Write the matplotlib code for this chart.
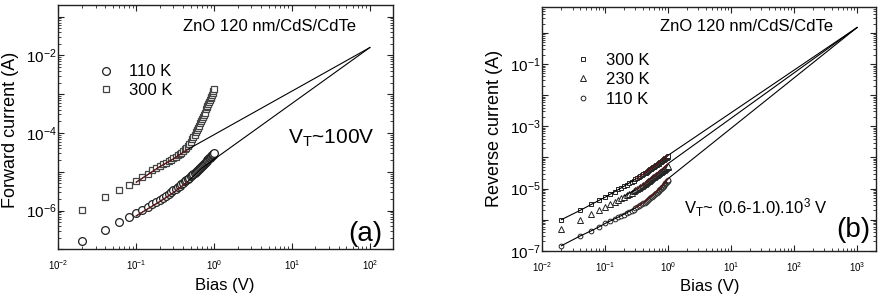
import matplotlib
matplotlib.use("Agg")
import matplotlib.pyplot as plt
import numpy as np
from matplotlib.ticker import LogLocator, FuncFormatter, NullFormatter

plt.rcParams['font.family'] = ['Liberation Sans', 'DejaVu Sans']
plt.rcParams['mathtext.default'] = 'regular'

# measured bias points (V), same for every curve
bias = [0.02, 0.04, 0.06, 0.08, 0.10, 0.12, 0.14, 0.16, 0.18, 0.20,
        0.22, 0.24, 0.26, 0.28, 0.30, 0.32, 0.34, 0.36, 0.38, 0.40,
        0.42, 0.44, 0.46, 0.48, 0.50, 0.52, 0.54, 0.56, 0.58, 0.60,
        0.62, 0.64, 0.66, 0.68, 0.70, 0.72, 0.74, 0.76, 0.78, 0.80,
        0.82, 0.84, 0.86, 0.88, 0.90, 0.92, 0.94, 0.96, 0.98, 1.00]

# (a) forward current (A)
fwd_110K = [1.6e-7, 3.2e-7, 5.0e-7, 6.9e-7, 8.7e-7, 1.06e-6, 1.26e-6, 1.46e-6, 1.68e-6, 1.9e-6,
            2.14e-6, 2.4e-6, 2.67e-6, 2.97e-6, 3.3e-6, 3.65e-6, 4.0e-6, 4.4e-6, 4.8e-6, 5.2e-6,
            5.65e-6, 6.1e-6, 6.6e-6, 7.1e-6, 7.6e-6, 8.1e-6, 8.6e-6, 9.2e-6, 9.8e-6, 1.04e-5,
            1.11e-5, 1.18e-5, 1.26e-5, 1.34e-5, 1.42e-5, 1.51e-5, 1.6e-5, 1.7e-5, 1.8e-5, 1.9e-5,
            2.0e-5, 2.1e-5, 2.2e-5, 2.31e-5, 2.42e-5, 2.53e-5, 2.65e-5, 2.77e-5, 2.9e-5, 3.1e-5]
fwd_300K = [1.05e-6, 2.2e-6, 3.3e-6, 4.6e-6, 5.7e-6, 7.3e-6, 9.0e-6, 1.08e-5, 1.26e-5, 1.43e-5,
            1.58e-5, 1.73e-5, 1.88e-5, 2.05e-5, 2.23e-5, 2.42e-5, 2.63e-5, 2.86e-5, 3.12e-5, 3.42e-5,
            3.78e-5, 4.2e-5, 4.7e-5, 5.3e-5, 6.0e-5, 6.8e-5, 7.8e-5, 9.0e-5, 1.03e-4, 1.18e-4,
            1.35e-4, 1.55e-4, 1.77e-4, 2.02e-4, 2.3e-4, 2.6e-4, 2.95e-4, 3.3e-4, 4.1e-4, 4.6e-4,
            5.1e-4, 5.7e-4, 6.3e-4, 7.0e-4, 7.8e-4, 8.7e-4, 9.7e-4, 1.08e-3, 1.2e-3, 1.35e-3]

# (a) fit lines extrapolated to V_T ~ 100 V
fit_a_300K_v = [0.1, 0.2, 0.3, 0.45, 100]
fit_a_300K_i = [5.4e-6, 1.35e-5, 2.15e-5, 3.7e-5, 1.6e-2]
fit_a_110K_v = [0.1, 0.2, 0.3, 0.45, 0.7, 1.0, 100]
fit_a_110K_i = [7.3e-7, 1.7e-6, 2.9e-6, 5.4e-6, 1.25e-5, 2.1e-5, 1.6e-2]
fit_a_red = (0.1, 0.45)

# (b) reverse current (A)
rev_300K = [1.0e-6, 2.0e-6, 3.2e-6, 4.2e-6, 5.3e-6, 6.6e-6, 8.0e-6, 9.3e-6, 1.07e-5, 1.2e-5,
            1.34e-5, 1.5e-5, 1.65e-5, 1.8e-5, 1.97e-5, 2.14e-5, 2.3e-5, 2.48e-5, 2.66e-5, 2.85e-5,
            3.05e-5, 3.25e-5, 3.45e-5, 3.66e-5, 3.88e-5, 4.1e-5, 4.33e-5, 4.56e-5, 4.8e-5, 5.05e-5,
            5.3e-5, 5.55e-5, 5.8e-5, 6.06e-5, 6.33e-5, 6.6e-5, 6.88e-5, 7.16e-5, 7.45e-5, 7.74e-5,
            8.03e-5, 8.33e-5, 8.63e-5, 8.94e-5, 9.25e-5, 9.56e-5, 9.88e-5, 1.02e-4, 1.05e-4, 1.08e-4]
rev_230K = [4.9e-7, 1.0e-6, 1.5e-6, 2.0e-6, 2.5e-6, 3.1e-6, 3.7e-6, 4.3e-6, 4.9e-6, 5.5e-6,
            6.1e-6, 6.8e-6, 7.4e-6, 8.1e-6, 8.8e-6, 9.5e-6, 1.03e-5, 1.11e-5, 1.19e-5, 1.28e-5,
            1.38e-5, 1.48e-5, 1.58e-5, 1.69e-5, 1.8e-5, 1.91e-5, 2.02e-5, 2.14e-5, 2.26e-5, 2.38e-5,
            2.5e-5, 2.63e-5, 2.76e-5, 2.9e-5, 3.04e-5, 3.18e-5, 3.32e-5, 3.46e-5, 3.6e-5, 3.75e-5,
            3.9e-5, 4.05e-5, 4.2e-5, 4.35e-5, 4.5e-5, 4.65e-5, 4.8e-5, 4.95e-5, 5.1e-5, 5.25e-5]
rev_110K = [1.45e-7, 3.0e-7, 4.4e-7, 5.9e-7, 7.6e-7, 8.9e-7, 1.03e-6, 1.17e-6, 1.31e-6, 1.45e-6,
            1.6e-6, 1.76e-6, 1.92e-6, 2.1e-6, 2.3e-6, 2.48e-6, 2.68e-6, 2.88e-6, 3.08e-6, 3.3e-6,
            3.54e-6, 3.8e-6, 4.05e-6, 4.32e-6, 4.6e-6, 4.9e-6, 5.2e-6, 5.5e-6, 5.85e-6, 6.2e-6,
            6.6e-6, 7.0e-6, 7.4e-6, 7.85e-6, 8.3e-6, 8.8e-6, 9.3e-6, 9.85e-6, 1.04e-5, 1.1e-5,
            1.16e-5, 1.23e-5, 1.3e-5, 1.37e-5, 1.45e-5, 1.53e-5, 1.62e-5, 1.71e-5, 1.8e-5, 1.9e-5]

# (b) fit lines extrapolated to V_T ~ 10^3 V
fit_b_300K_v = [0.02, 0.04, 0.06, 0.1, 0.2, 0.3, 0.4, 0.7, 1.0, 1000]
fit_b_300K_i = [1.0e-6, 2.0e-6, 3.1e-6, 5.3e-6, 1.2e-5, 2.0e-5, 2.9e-5, 6.6e-5, 1.18e-4, 1.5]
fit_b_230K_v = [0.2, 0.3, 0.4, 0.7, 1.0, 1000]
fit_b_230K_i = [5.8e-6, 9.2e-6, 1.32e-5, 3.3e-5, 6.4e-5, 1.5]
fit_b_110K_v = [0.02, 0.04, 0.06, 0.08, 0.1, 0.2, 0.3, 0.4, 0.7, 1.0, 1000]
fit_b_110K_i = [1.45e-7, 3.0e-7, 4.4e-7, 5.9e-7, 7.6e-7, 1.5e-6, 2.4e-6, 3.5e-6, 9.0e-6, 2.1e-5, 1.5]
fit_b_red = (0.3, 1.0)

DARKRED = '#6e1a1a'


def draw_fit(ax, v, i, red_range):
    v = np.array(v)
    i = np.array(i)
    ax.plot(v, i, color='black', lw=0.8, zorder=3)
    m = (v >= red_range[0]) & (v <= red_range[1])
    ax.plot(v[m], i[m], color=DARKRED, lw=0.8, zorder=4)


def style_axes(ax, xlim, ylim, ylabel, label_parity, ylab_pos, xlab_pos, title_pos):
    ax.set_xscale('log')
    ax.set_yscale('log')
    ax.set_xlim(*xlim)
    ax.set_ylim(*ylim)
    for axis in (ax.xaxis, ax.yaxis):
        axis.set_major_locator(LogLocator(base=10, numticks=20))
        axis.set_minor_locator(LogLocator(base=10, subs=np.arange(2, 10), numticks=20))
        axis.set_minor_formatter(NullFormatter())
    ax.xaxis.set_major_formatter(FuncFormatter(
        lambda val, p: r'$\mathdefault{10^{%d}}$' % round(np.log10(val))))
    ax.yaxis.set_major_formatter(FuncFormatter(
        lambda val, p: r'$\mathdefault{10^{%d}}$' % round(np.log10(val))
        if round(np.log10(val)) % 2 == label_parity else ''))
    ax.tick_params(which='both', direction='in', top=True, right=True, color='#222222')
    ax.tick_params(which='major', length=4, width=0.8)
    ax.tick_params(which='minor', length=2.2, width=0.6)
    ax.tick_params(axis='x', labelsize=7, pad=6.5)
    ax.tick_params(axis='y', labelsize=11, pad=1.5)
    for s in ax.spines.values():
        s.set_linewidth(1.0)
        s.set_color('#222222')
    ax.set_xlabel('Bias (V)', fontsize=12)
    ax.set_ylabel(ylabel, fontsize=13)
    ax.xaxis.set_label_coords(*xlab_pos)
    ax.yaxis.set_label_coords(*ylab_pos)
    ax.text(title_pos[0], title_pos[1], 'ZnO 120 nm/CdS/CdTe', transform=ax.transAxes,
            fontsize=12, va='center')


fig = plt.figure(figsize=(8.86, 3.0), dpi=100)
ax_a = fig.add_axes([0.066, 0.169, 0.3779, 0.8143])
ax_b = fig.add_axes([0.6123, 0.1643, 0.3764, 0.8133])

# ---- panel (a)
ax_a.plot(bias, fwd_110K, ls='none', marker='o', ms=5.6, mfc='white', mec='#222222', mew=0.9,
          label='110 K', zorder=2)
ax_a.plot(bias, fwd_300K, ls='none', marker='s', ms=4.8, mfc='white', mec='#444444', mew=0.9,
          label='300 K', zorder=2)
draw_fit(ax_a, fit_a_300K_v, fit_a_300K_i, fit_a_red)
draw_fit(ax_a, fit_a_110K_v, fit_a_110K_i, fit_a_red)
style_axes(ax_a, (0.01, 200), (1e-7, 0.2), 'Forward current (A)', 0,
           (-0.1165, 0.488), (0.497, -0.118), (0.371, 0.911))
ax_a.legend(loc='upper left', bbox_to_anchor=(0.117, 0.757), frameon=False, fontsize=12,
            handlelength=1.0, handletextpad=0.9, labelspacing=0.22, borderpad=0,
            borderaxespad=0, numpoints=1)
ax_a.text(0.6855, 0.434, r'V$_\mathregular{T}$~100V', transform=ax_a.transAxes,
          fontsize=15, va='baseline')
ax_a.text(0.865, 0.063, '(a)', transform=ax_a.transAxes, fontsize=20, va='center')

# ---- panel (b)
ax_b.plot(bias, rev_300K, ls='none', marker='s', ms=3.4, mfc='white', mec='#222222', mew=0.7,
          label='300 K', zorder=2)
ax_b.plot(bias, rev_230K, ls='none', marker='^', ms=4.0, mfc='white', mec='#222222', mew=0.7,
          label='230 K', zorder=2)
ax_b.plot(bias, rev_110K, ls='none', marker='o', ms=3.4, mfc='white', mec='#222222', mew=0.7,
          label='110 K', zorder=2)
draw_fit(ax_b, fit_b_300K_v, fit_b_300K_i, fit_b_red)
draw_fit(ax_b, fit_b_230K_v, fit_b_230K_i, fit_b_red)
draw_fit(ax_b, fit_b_110K_v, fit_b_110K_i, fit_b_red)
style_axes(ax_b, (0.01, 2000), (1e-7, 7), 'Reverse current (A)', 1,
           (-0.117, 0.502), (0.501, -0.116), (0.351, 0.918))
ax_b.legend(loc='upper left', bbox_to_anchor=(0.0966, 0.812), frameon=False, fontsize=12,
            handlelength=1.0, handletextpad=0.9, labelspacing=0.27, borderpad=0,
            borderaxespad=0, numpoints=1)
ax_b.text(0.423, 0.153, r'V$_\mathregular{T}$~ (0.6-1.0).10$^\mathregular{3}$ V',
          transform=ax_b.transAxes, fontsize=12, va='baseline')
ax_b.text(0.88, 0.085, '(b)', transform=ax_b.transAxes, fontsize=20, va='center')

fig.savefig('out.png', dpi=100)
